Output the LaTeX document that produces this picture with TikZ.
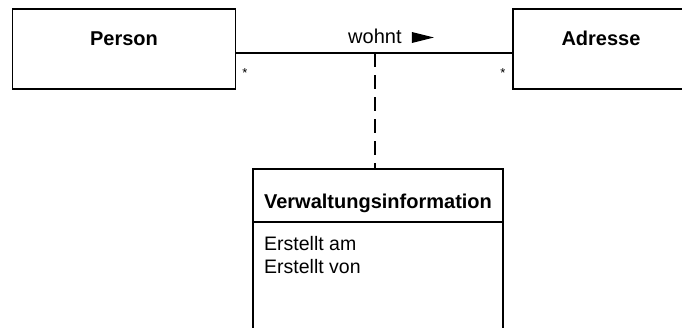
\documentclass[tikz,border=0pt]{standalone}
\usepackage{fontspec}
\setmainfont{Liberation Sans}
\begin{document}
\begin{tikzpicture}[x=1pt,y=-1pt,
  classbox/.style={draw=black, line width=1.6pt, rectangle, inner sep=0pt, outer sep=0pt, anchor=north west},
  classname/.style={font=\fontsize{20}{24}\selectfont\bfseries, anchor=base, inner sep=0pt},
  attr/.style={font=\fontsize{19.5}{23}\selectfont, anchor=base west, inner sep=0pt},
  assoclabel/.style={font=\fontsize{20}{24}\selectfont, anchor=base west, inner sep=0pt},
  mult/.style={font=\fontsize{13}{15}\selectfont, anchor=base, inner sep=0pt},
  conn/.style={line width=1.6pt},
  assocclass/.style={line width=1.6pt, dash pattern=on 14pt off 8pt},
]
\useasboundingbox (0,0) rectangle (682,327);

% classes
\node[classbox, minimum width=223pt, minimum height=80pt] (person) at (12.5,9) {};
\node[classbox, minimum width=180pt, minimum height=80pt] (adresse) at (513,9) {};
\node[classbox, minimum width=250pt, minimum height=200pt] (verw) at (253,169) {};

% class names
\node[classname] (personname) at (124,45.7) {Person};
\node[classname] (adressename) at (601,45.7) {Adresse};
\node[classname] (verwname) at (378,208.3) {Verwaltungsinformation};

% attribute compartment
\draw[conn] ([yshift=-53pt]verw.north west) -- ([yshift=-53pt]verw.north east);
\node[attr] (attr1) at (264,250) {Erstellt am};
\node[attr] (attr2) at (264,273) {Erstellt von};

% association with reading direction
\draw[conn] ([yshift=-4pt]person.east) -- ([yshift=-4pt]adresse.west);
\node[assoclabel] (wohnt) at (348,43.3) {wohnt};
\fill ([xshift=10pt,yshift=0.3pt]wohnt.base east) -- ++(0,-11) -- ++(22,5.5) -- cycle;

% multiplicities
\node[mult] (mperson) at (245,77) {*};
\node[mult] (madresse) at (503,77) {*};

% association class link
\coordinate (mid) at (375,53);
\draw[assocclass] (mid) -- (mid |- verw.north);
\end{tikzpicture}
\end{document}
